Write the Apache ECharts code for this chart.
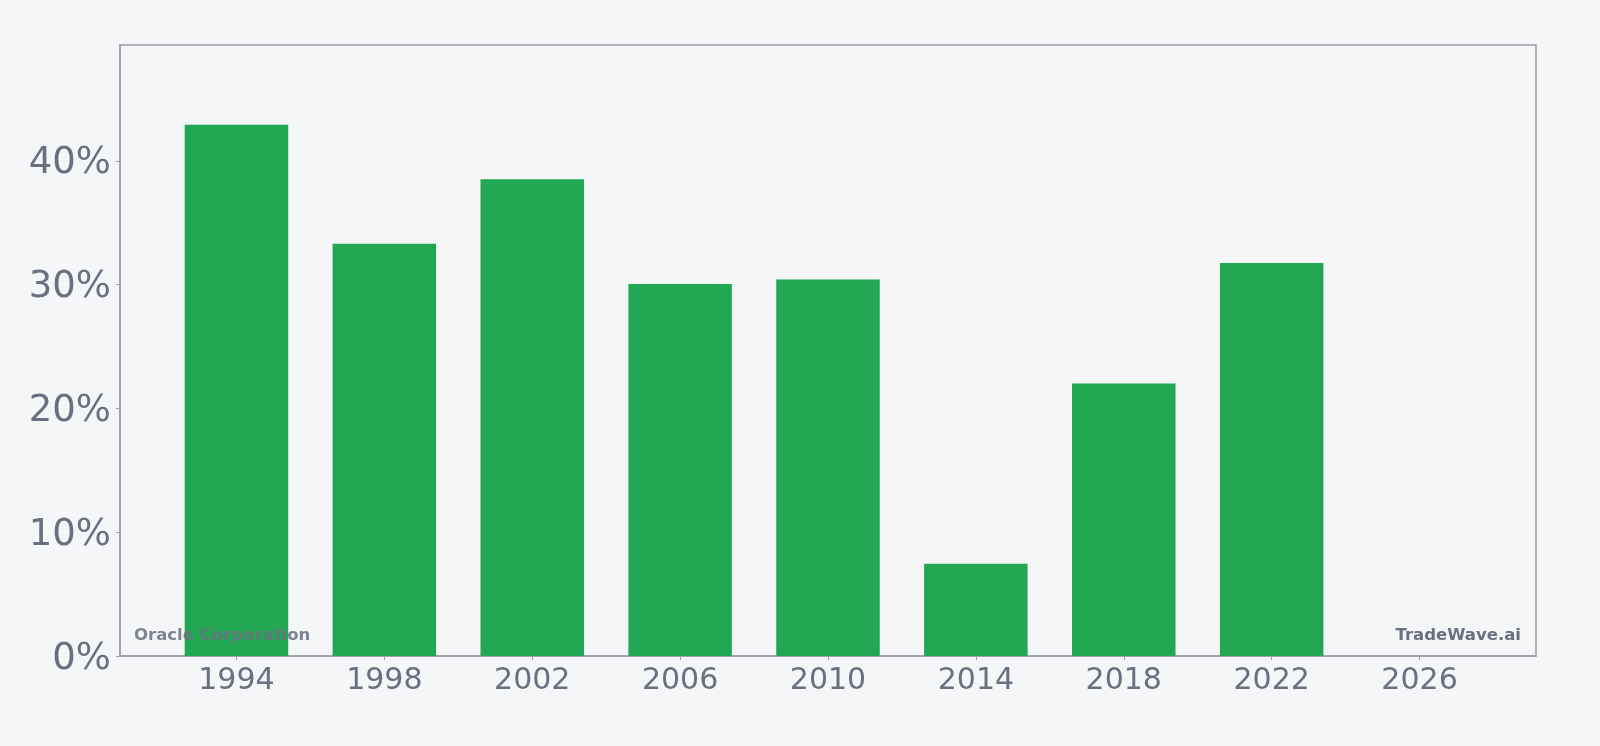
<!DOCTYPE html>
<html>
<head>
<meta charset="utf-8">
<script src="https://cdn.jsdelivr.net/npm/echarts@6/dist/echarts.min.js"></script>
<style>
html,body{margin:0;padding:0;background:#f4f6f8;}
#c{width:1600px;height:746px;}
</style>
</head>
<body>
<div id="c"></div>
<script>
const years = [1994, 1998, 2002, 2006, 2010, 2014, 2018, 2022];
const values = [42.9, 33.3, 38.5, 30.05, 30.4, 7.45, 22.0, 31.75];
const xTickYears = [1994, 1998, 2002, 2006, 2010, 2014, 2018, 2022, 2026];
const yTicks = [0, 10, 20, 30, 40];
const companyName = 'Oracle Corporation';
const brandName = 'TradeWave.ai';

const chart = echarts.init(document.getElementById('c'));
const axisGrey = '#9b9ea8';
const labelGrey = '#6b7080';
chart.setOption({
  backgroundColor: '#f4f6f8',
  animation: false,
  grid: {left: 120, right: 64, top: 45, bottom: 90, show: true, borderColor: axisGrey, borderWidth: 1.5, backgroundColor: 'transparent'},
  xAxis: {
    type: 'value', min: 1990.85, max: 2029.15,
    splitLine: {show: false},
    axisLine: {show: true, lineStyle: {color: axisGrey, width: 1.5}},
    axisTick: {show: true, length: 4, customValues: xTickYears, lineStyle: {color: axisGrey}},
    axisLabel: {customValues: xTickYears, color: labelGrey, fontSize: 30, fontFamily: 'DejaVu Sans', margin: 10, formatter: v => String(v)}
  },
  yAxis: {
    type: 'value', min: 0, max: 49.35,
    splitLine: {show: false},
    axisLine: {show: true, lineStyle: {color: axisGrey, width: 1.5}},
    axisTick: {show: true, length: 4, customValues: yTicks, lineStyle: {color: axisGrey}},
    axisLabel: {customValues: yTicks, color: labelGrey, fontSize: 37, fontFamily: 'DejaVu Sans', margin: 9, verticalAlign: 'top', lineHeight: 6, formatter: v => v + '%'}
  },
  series: [{
    type: 'bar',
    data: years.map((y, i) => [y, values[i]]),
    barWidth: 103.5,
    itemStyle: {color: '#22a753'},
    z: 2
  }],
  graphic: [
    {type: 'text', x: 134, y: 636, z: 100, style: {text: companyName, fill: 'rgba(107,112,128,0.85)', font: 'bold 16.5px "DejaVu Sans"', textVerticalAlign: 'middle', textAlign: 'left'}},
    {type: 'text', x: 1521, y: 636, z: 100, style: {text: brandName, fill: 'rgba(107,112,128,1)', font: 'bold 16.5px "DejaVu Sans"', textVerticalAlign: 'middle', textAlign: 'right'}}
  ]
});
</script>
</body>
</html>
